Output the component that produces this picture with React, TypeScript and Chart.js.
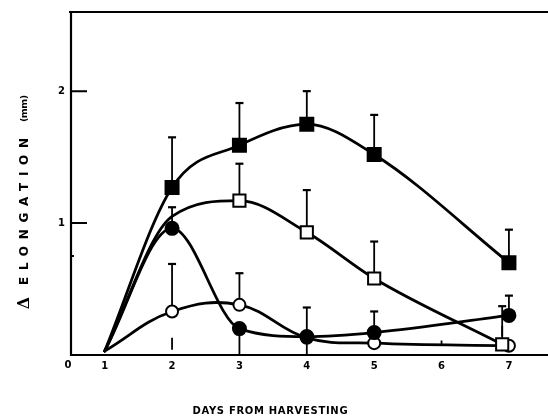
import React, { useEffect, useRef } from "react";
import { Chart, registerables } from "chart.js";

Chart.register(...registerables);

// ---- data ----
const DAYS = [1, 2, 3, 4, 5, 7];
const X_TICKS = [1, 2, 3, 4, 5, 6, 7];
const X_TICK_LABELS = ["1", "2", "3", "4", "5", "6", "7"];
const Y_TICKS = [1, 2];
const Y_TICK_LABELS = ["1", "2"];
const Y_MINOR_TICKS = [0.75];

const FILLED_SQUARE = [0.03, 1.27, 1.59, 1.75, 1.52, 0.7];
const FILLED_SQUARE_ERR = [null, 1.65, 1.91, 2.0, 1.82, 0.95];

const OPEN_SQUARE_DAYS = [1, 2, 3, 4, 5, 6.9];
const OPEN_SQUARE = [0.03, 1.05, 1.17, 0.93, 0.58, 0.08];
const OPEN_SQUARE_ERR = [null, null, 1.45, 1.25, 0.86, 0.37];

const FILLED_CIRCLE = [0.03, 0.96, 0.2, 0.14, 0.17, 0.3];
const FILLED_CIRCLE_ERR = [null, 1.12, null, 0.36, 0.33, 0.45];

const OPEN_CIRCLE = [0.03, 0.33, 0.38, 0.13, 0.09, 0.07];
const OPEN_CIRCLE_ERR = [null, 0.69, 0.62, null, null, null];

const LOWER_TICK_DAYS = [2, 3, 4, 6, 6.9];
const LOWER_TICK_TOP = [0.13, 0.2, 0.14, 0.11, 0.22];
const LOWER_TICK_BOTTOM = [0.04, 0.0, 0.0, 0.07, 0.14];

const X_TITLE = "DAYS FROM HARVESTING";
const Y_TITLE_SYMBOL = "Δ";
const Y_TITLE_WORD = "ELONGATION";
const Y_TITLE_UNIT = "(mm)";
const ORIGIN_LABEL = "0";

const FONT = "'DejaVu Sans', sans-serif";

function pts(xs: number[], ys: number[]) {
  return xs.map((x, i) => ({ x, y: ys[i] }));
}

function drawSpaced(ctx: any, text: string, cx: number, cy: number, target: number) {
  ctx.letterSpacing = "0px";
  const w = ctx.measureText(text).width;
  const n = Array.from(text).length;
  const sp = n > 1 ? (target - w) / (n - 1) : 0;
  ctx.letterSpacing = sp.toFixed(2) + "px";
  ctx.textAlign = "left";
  ctx.textBaseline = "middle";
  ctx.fillText(text, cx - target / 2, cy);
  ctx.letterSpacing = "0px";
}

const framePlugin = {
  id: "frame",
  beforeDatasetsDraw(chart: any) {
    const { ctx, chartArea, scales } = chart;
    const { left, right, top, bottom } = chartArea;
    const xs = scales.x;
    const ys = scales.y;
    ctx.save();
    ctx.strokeStyle = "#000";
    ctx.lineWidth = 2.2;
    ctx.beginPath();
    ctx.moveTo(left - 2, top);
    ctx.lineTo(right, top);
    ctx.moveTo(left, top);
    ctx.lineTo(left, bottom + 1);
    ctx.moveTo(left, bottom);
    ctx.lineTo(right, bottom);
    ctx.stroke();

    ctx.lineWidth = 2;
    ctx.beginPath();
    Y_TICKS.forEach((v) => {
      const py = ys.getPixelForValue(v);
      ctx.moveTo(left, py);
      ctx.lineTo(left + 16, py);
    });
    Y_MINOR_TICKS.forEach((v) => {
      const py = ys.getPixelForValue(v);
      ctx.moveTo(left, py);
      ctx.lineTo(left + 3, py);
    });
    ctx.stroke();

    const errs: [number[], number[], (number | null)[]][] = [
      [DAYS, FILLED_SQUARE, FILLED_SQUARE_ERR],
      [OPEN_SQUARE_DAYS, OPEN_SQUARE, OPEN_SQUARE_ERR],
      [DAYS, FILLED_CIRCLE, FILLED_CIRCLE_ERR],
      [DAYS, OPEN_CIRCLE, OPEN_CIRCLE_ERR],
    ];
    errs.forEach(([xv, yv, ev]) => {
      xv.forEach((d, i) => {
        const e = ev[i];
        if (e == null) return;
        const px = xs.getPixelForValue(d);
        const py = ys.getPixelForValue(yv[i]);
        const pe = ys.getPixelForValue(e);
        ctx.lineWidth = 1.8;
        ctx.beginPath();
        ctx.moveTo(px, py);
        ctx.lineTo(px, pe);
        ctx.stroke();
        ctx.lineWidth = 2.2;
        ctx.beginPath();
        ctx.moveTo(px - 4, pe);
        ctx.lineTo(px + 4, pe);
        ctx.stroke();
      });
    });
    ctx.lineWidth = 1.8;
    LOWER_TICK_DAYS.forEach((d, i) => {
      const px = xs.getPixelForValue(d);
      ctx.beginPath();
      ctx.moveTo(px, ys.getPixelForValue(LOWER_TICK_TOP[i]));
      ctx.lineTo(px, ys.getPixelForValue(LOWER_TICK_BOTTOM[i]));
      ctx.stroke();
    });
    ctx.restore();
  },
  afterDraw(chart: any) {
    const { ctx, chartArea } = chart;
    ctx.save();
    ctx.fillStyle = "#000";
    // origin label
    ctx.font = `bold 10px ${FONT}`;
    ctx.textAlign = "center";
    ctx.textBaseline = "middle";
    ctx.fillText(ORIGIN_LABEL, chartArea.left - 3, chartArea.bottom + 10);
    // x title
    ctx.font = `bold 10px ${FONT}`;
    drawSpaced(ctx, X_TITLE, 270, 411, 155);
    // y title (rotated)
    ctx.translate(25, 0);
    ctx.rotate(-Math.PI / 2);
    ctx.font = `bold 16px 'DejaVu Serif', serif`;
    ctx.textAlign = "center";
    ctx.textBaseline = "middle";
    ctx.fillText(Y_TITLE_SYMBOL, -303, 0);
    ctx.font = `bold 12px ${FONT}`;
    drawSpaced(ctx, Y_TITLE_WORD, -211.5, 0, 147);
    ctx.font = `bold 9.5px ${FONT}`;
    drawSpaced(ctx, Y_TITLE_UNIT, -108.5, 0, 27);
    ctx.restore();
  },
};

export default function App() {
  const ref = useRef<HTMLCanvasElement>(null);
  useEffect(() => {
    document.body.style.margin = "0";
    const canvas = ref.current as HTMLCanvasElement;
    const lineBase = {
      borderColor: "#000",
      borderWidth: 2.8,
      borderCapStyle: "round",
      borderJoinStyle: "round",
      pointBorderColor: "#000",
      pointBorderWidth: 2,
      clip: false,
      fill: false,
    };
    const chart = new Chart(canvas, {
      type: "line",
      data: {
        datasets: [
          {
            ...lineBase,
            label: "filled squares",
            data: pts(DAYS, FILLED_SQUARE),
            cubicInterpolationMode: "monotone",
            pointStyle: "rect",
            pointRadius: [0, 9.2, 9.2, 9.2, 9.2, 9.2],
            pointBackgroundColor: "#000",
          },
          {
            ...lineBase,
            label: "open squares",
            data: pts(OPEN_SQUARE_DAYS, OPEN_SQUARE),
            cubicInterpolationMode: "monotone",
            pointStyle: "rect",
            pointRadius: [0, 0, 8.6, 8.6, 8.6, 8.6],
            pointBackgroundColor: "#fff",
          },
          {
            ...lineBase,
            label: "filled circles",
            data: pts(DAYS, FILLED_CIRCLE),
            cubicInterpolationMode: "monotone",
            pointStyle: "circle",
            pointRadius: [0, 6.5, 6.5, 6.5, 6.5, 6.5],
            pointBackgroundColor: "#000",
          },
          {
            ...lineBase,
            label: "open circles",
            data: pts(DAYS, OPEN_CIRCLE),
            tension: 0.4,
            pointStyle: "circle",
            pointRadius: [0, 6, 6, 6, 6, 6],
            pointBackgroundColor: "#fff",
          },
        ],
      },
      options: {
        responsive: false,
        animation: false,
        layout: { autoPadding: false, padding: { top: 12, right: 0, left: 0, bottom: 0 } },
        plugins: {
          legend: { display: false },
          tooltip: { enabled: false },
          title: { display: false },
        },
        scales: {
          x: {
            type: "linear",
            min: 0.5,
            max: 7.58,
            grid: { display: false, drawTicks: false },
            border: { display: false },
            afterBuildTicks: (s: any) => {
              s.ticks = X_TICKS.map((v) => ({ value: v }));
            },
            afterFit: (s: any) => {
              s.height = 62;
              s.paddingLeft = 0;
              s.paddingRight = 0;
            },
            ticks: {
              color: "#000",
              font: { family: FONT, size: 10, weight: "bold" },
              padding: 5,
              maxRotation: 0,
              autoSkip: false,
              callback: (_v: any, i: number) => X_TICK_LABELS[i],
            },
          },
          y: {
            type: "linear",
            min: 0,
            max: 2.6,
            grid: { display: false, drawTicks: false },
            border: { display: false },
            afterBuildTicks: (s: any) => {
              s.ticks = Y_TICKS.map((v) => ({ value: v }));
            },
            afterFit: (s: any) => {
              s.width = 71;
              s.paddingTop = 0;
              s.paddingBottom = 0;
            },
            ticks: {
              color: "#000",
              font: { family: FONT, size: 10, weight: "bold" },
              padding: 6,
              callback: (_v: any, i: number) => Y_TICK_LABELS[i],
            },
          },
        },
      },
      plugins: [framePlugin],
    } as any);
    return () => chart.destroy();
  }, []);
  return (
    <div style={{ position: "absolute", left: 0, top: 0, width: 548, height: 417 }}>
      <canvas ref={ref} width={548} height={417} style={{ display: "block" }} />
    </div>
  );
}
